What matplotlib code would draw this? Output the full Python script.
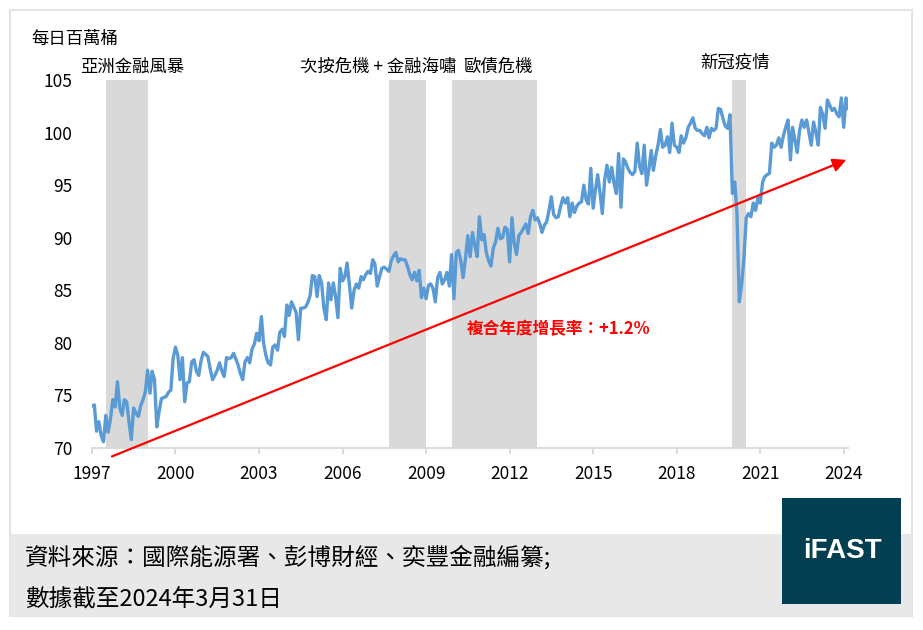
import matplotlib
matplotlib.use("Agg")
import matplotlib.pyplot as plt
import matplotlib.dates as mdates
from matplotlib.patches import Rectangle
import pandas as pd

plt.rcParams['font.family'] = ['Noto Sans CJK TC', 'DejaVu Sans']

# ============================================================
# DATOS: producción mensual (millones de barriles diarios), ene-1997 a mar-2024
# ============================================================
y1997 = [74.0, 74.1, 71.6, 72.5, 71.2, 70.6, 73.1, 71.5, 72.8, 74.6, 73.9, 76.3]
y1998 = [73.8, 73.1, 74.6, 74.4, 72.5, 70.8, 73.8, 73.3, 73.0, 74.0, 74.6, 75.3]
y1999 = [77.4, 75.2, 77.3, 76.5, 72.0, 73.5, 74.7, 74.8, 74.9, 75.3, 75.5, 78.5]
y2000 = [79.6, 78.8, 76.5, 78.6, 74.4, 76.2, 76.3, 78.2, 78.4, 77.3, 76.9, 78.3]
y2001 = [79.1, 78.9, 78.7, 77.5, 76.5, 76.9, 77.4, 78.1, 77.3, 76.8, 78.6, 78.5]
y2002 = [78.6, 79.0, 78.5, 77.9, 77.1, 76.5, 78.2, 78.6, 78.1, 79.4, 79.9, 80.9]
y2003 = [80.2, 82.5, 80.0, 78.8, 78.1, 77.9, 79.6, 79.8, 79.3, 81.0, 81.3, 80.6]
y2004 = [83.6, 82.6, 83.9, 83.4, 82.9, 80.3, 83.3, 83.3, 83.4, 83.8, 84.5, 86.4]
y2005 = [86.3, 84.4, 86.4, 85.7, 83.3, 82.2, 85.7, 84.1, 85.7, 84.4, 82.4, 87.1]
y2006 = [85.9, 86.3, 87.6, 85.5, 83.3, 85.0, 85.6, 85.2, 86.3, 86.0, 86.5, 86.8]
y2007 = [86.6, 87.9, 87.5, 85.4, 86.3, 87.1, 87.2, 87.0, 86.8, 87.8, 88.3, 88.6]
y2008 = [87.7, 88.0, 87.9, 87.9, 87.3, 86.5, 86.0, 86.7, 85.9, 86.9, 84.3, 85.2]
y2009 = [84.2, 85.5, 85.6, 85.2, 83.9, 86.2, 86.7, 85.6, 86.0, 86.7, 85.4, 88.4]
y2010 = [84.2, 88.6, 88.8, 87.8, 86.2, 88.0, 90.2, 88.2, 90.5, 89.3, 88.2, 92.0]
y2011 = [89.8, 90.3, 88.6, 87.8, 87.3, 89.0, 89.6, 90.9, 89.9, 90.0, 91.0, 90.8]
y2012 = [87.7, 91.9, 89.5, 88.4, 90.2, 90.5, 90.9, 91.3, 90.4, 92.0, 92.6, 91.7]
y2013 = [91.9, 91.3, 90.5, 91.2, 91.5, 92.6, 93.9, 92.2, 91.9, 92.0, 93.0, 93.8]
y2014 = [93.3, 93.8, 92.0, 93.3, 92.4, 93.0, 93.3, 93.4, 95.0, 93.6, 93.2, 96.6]
y2015 = [92.8, 94.6, 96.0, 94.3, 92.3, 95.5, 96.9, 95.3, 96.7, 95.2, 94.2, 98.0]
y2016 = [92.9, 97.5, 97.2, 96.6, 96.2, 96.0, 96.3, 99.0, 96.8, 96.1, 98.8, 95.0]
y2017 = [96.5, 98.3, 96.4, 97.8, 98.8, 100.3, 98.6, 98.8, 99.6, 98.1, 100.9, 98.8]
y2018 = [98.6, 98.1, 99.7, 99.0, 99.5, 100.5, 100.9, 101.4, 100.4, 100.2, 100.2, 99.9]
y2019 = [99.7, 100.5, 99.5, 100.4, 100.2, 100.4, 102.3, 102.2, 101.3, 100.6, 100.4, 101.7]
y2020 = [94.2, 95.3, 92.4, 83.9, 85.5, 88.1, 91.9, 92.3, 92.0, 93.3, 92.6, 93.8]
y2021 = [93.3, 95.3, 95.8, 96.0, 96.1, 99.0, 98.6, 98.8, 99.5, 98.6, 99.7, 100.5]
y2022 = [101.2, 97.4, 100.5, 99.3, 98.1, 100.2, 101.2, 100.5, 101.2, 100.0, 98.8, 101.0]
y2023 = [100.0, 98.8, 102.4, 101.7, 100.4, 103.1, 102.6, 102.1, 102.3, 101.8, 101.5, 103.3]
y2024 = [100.5, 103.3, 102.3]

valores = (y1997 + y1998 + y1999 + y2000 + y2001 + y2002 + y2003 + y2004 + y2005
           + y2006 + y2007 + y2008 + y2009 + y2010 + y2011 + y2012 + y2013 + y2014
           + y2015 + y2016 + y2017 + y2018 + y2019 + y2020 + y2021 + y2022 + y2023 + y2024)
fechas = pd.date_range("1997-01-01", periods=len(valores), freq="MS")

# periodos de crisis (sombreado gris)
crisis_inicio = ["1997-07-01", "2007-09-01", "2009-12-01", "2020-01-01"]
crisis_fin = ["1998-12-31", "2008-12-31", "2012-12-31", "2020-06-30"]
crisis_nombres = ["亞洲金融風暴", "次按危機 + 金融海嘯", "歐債危機", "新冠疫情"]

# flecha de tendencia (CAGR)
tendencia_fechas = ["1997-09-20", "2024-02-05"]
tendencia_valores = [69.2, 97.4]

anios_ticks = list(range(1997, 2025, 3))
y_ticks = list(range(70, 106, 5))

# ============================================================
# FIGURA
# ============================================================
W, H = 923, 630
fig = plt.figure(figsize=(W / 100, H / 100), dpi=100)


def fx(px):
    return px / W


def fy(py):
    return 1 - py / H


# tarjeta, pie gris y logo
fig.add_artist(Rectangle((fx(10), fy(616)), fx(912) - fx(10), fy(10) - fy(616),
                         transform=fig.transFigure, facecolor="white",
                         edgecolor="#e4e4e4", lw=1.5, zorder=-2))
fig.add_artist(Rectangle((fx(10), fy(616)), fx(912) - fx(10), fy(534) - fy(616),
                         transform=fig.transFigure, facecolor="#e8e8e8",
                         edgecolor="none", zorder=-1))
fig.add_artist(Rectangle((fx(782), fy(604)), fx(901) - fx(782), fy(498) - fy(604),
                         transform=fig.transFigure, facecolor="#033f50",
                         edgecolor="none", zorder=2))
fig.text(fx(842), fy(551), "iFAST", color="white", fontsize=20, fontweight="bold",
         family="Liberation Sans", ha="center", va="center", zorder=3)

# ejes
x_fin = 848.3
ax = fig.add_axes([fx(92), fy(448), (x_fin - 92) / W, (448 - 80) / H])
ax.set_facecolor("none")

for a, b in zip(crisis_inicio, crisis_fin):
    ax.axvspan(pd.Timestamp(a), pd.Timestamp(b), color="#d9d9d9", lw=0, zorder=1)

ax.plot(fechas, valores, color="#5b9bd5", lw=2.4, zorder=3)

ax.set_xlim(fechas[0], fechas[-1])
ax.set_ylim(70, 105)
ax.set_yticks(y_ticks)
ax.set_xticks([pd.Timestamp(f"{a}-01-01") for a in anios_ticks])
ax.set_xticklabels([str(a) for a in anios_ticks])

for lado in ["top", "left", "right"]:
    ax.spines[lado].set_visible(False)
ax.spines["bottom"].set_color("#d9d9d9")
ax.spines["bottom"].set_linewidth(1.3)
ax.tick_params(axis="x", length=4, width=1.3, color="#d9d9d9", pad=8, labelsize=12.5)
ax.tick_params(axis="y", length=0, pad=14, labelsize=12.5)

# flecha roja
ax.annotate("", xy=(mdates.date2num(pd.Timestamp(tendencia_fechas[1])), tendencia_valores[1]),
            xytext=(mdates.date2num(pd.Timestamp(tendencia_fechas[0])), tendencia_valores[0]),
            arrowprops=dict(arrowstyle="-|>", color="red", lw=1.6, mutation_scale=20,
                            shrinkA=0, shrinkB=0),
            annotation_clip=False, zorder=4)

# textos
fig.text(fx(467), fy(329), "複合年度增長率：+1.2%", color="red", fontsize=12,
         fontweight="bold", va="center")
fig.text(fx(31), fy(39), "每日百萬桶", fontsize=12.5, va="center")

pos_etiquetas = [(80, 67), (300, 67), (463, 67), (700, 63)]
for nombre, (px, py) in zip(crisis_nombres, pos_etiquetas):
    fig.text(fx(px), fy(py), nombre, fontsize=12.5, va="center")

fig.text(fx(25), fy(557), "資料來源：國際能源署、彭博財經、奕豐金融編纂;", fontsize=17, va="center")
fig.text(fx(25), fy(600), "數據截至2024年3月31日", fontsize=17, va="center")

fig.savefig("out.png", dpi=100)
